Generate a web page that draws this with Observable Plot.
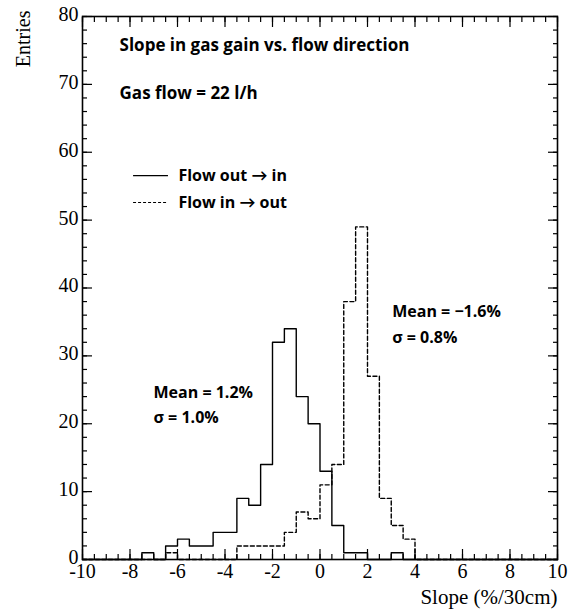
<!DOCTYPE html>
<html>
<head>
<meta charset="utf-8">
<script src="https://cdn.jsdelivr.net/npm/d3@7"></script>
<script src="https://cdn.jsdelivr.net/npm/@observablehq/plot@0.6"></script>
<style>
  body { margin: 0; background: #fff; }
  #chart svg { display: block; }
</style>
</head>
<body>
<div id="chart"></div>
<script>
// Histogram bins: lower edges (width 0.5 %/30cm)
const binLow = [-7.5, -7, -6.5, -6, -5.5, -5, -4.5, -4, -3.5, -3, -2.5, -2,
                -1.5, -1, -0.5, 0, 0.5, 1, 1.5, 2, 2.5, 3, 3.5];
const binWidth = 0.5;

// Entries per bin for each flow direction
const flowOutIn = [1, 0, 2, 3, 2, 2, 4, 4, 9, 8, 14, 32, 34, 24, 20, 13, 5, 1, 1, 0, 0, 1, 0];
const flowInOut = [0, 0, 1, 0, 0, 0, 0, 0, 2, 2, 2, 2, 4, 7, 6, 11, 14, 38, 49, 27, 9, 5, 3];

// Axes
const xDomain = [-10, 10];
const yDomain = [0, 80];
const xMajorTicks = [-10, -8, -6, -4, -2, 0, 2, 4, 6, 8, 10];
const yMajorTicks = [0, 10, 20, 30, 40, 50, 60, 70, 80];
const xMinorTicks = d3.range(-10, 10.001, 0.5);
const yMinorTicks = d3.range(0, 80.001, 2);

// Text
const titleText = "Slope in gas gain vs. flow direction";
const flowText = "Gas flow = 22 l/h";
const legendLabels = ["Flow out \u2192 in", "Flow in \u2192 out"];
const statsOutIn = ["Mean = 1.2%", "\u03c3 = 1.0%"];
const statsInOut = ["Mean = \u22121.6%", "\u03c3 = 0.8%"];

// Step outline of a histogram, running along the axis outside the filled bins
function outline(values) {
  const pts = [{x: xDomain[0], y: 0}];
  binLow.forEach((x0, i) => pts.push({x: x0, y: values[i]}));
  pts.push({x: binLow[binLow.length - 1] + binWidth, y: 0});
  pts.push({x: xDomain[1], y: 0});
  return pts;
}

const sans = "'Open Sans', Lato, sans-serif";
const annot = {fontFamily: sans, fontWeight: "bold", fontSize: 17, textAnchor: "start", fill: "#000"};
const small = {...annot, fontSize: 16};
const fmt = d => String(d);

const chart = Plot.plot({
  width: 569,
  height: 612,
  marginLeft: 82,
  marginRight: 12,
  marginTop: 16,
  marginBottom: 53,
  style: {fontFamily: "'Liberation Serif', 'Times New Roman', serif", fontSize: "20px", color: "#000", background: "#fff"},
  x: {domain: xDomain, label: null},
  y: {domain: yDomain, label: null},
  marks: [
    // histograms
    Plot.line(outline(flowOutIn), {x: "x", y: "y", curve: "step-after", stroke: "#000", strokeWidth: 1.4}),
    Plot.line(outline(flowInOut), {x: "x", y: "y", curve: "step-after", stroke: "#000", strokeWidth: 1.4, strokeDasharray: "4,2.5"}),

    // inward ticks on all four sides
    Plot.axisX({anchor: "bottom", ticks: xMinorTicks, tickSize: -5, text: null, label: null, strokeWidth: 1.2}),
    Plot.axisX({anchor: "bottom", ticks: xMajorTicks, tickSize: -10, text: null, label: null, strokeWidth: 1.2}),
    Plot.axisX({anchor: "top", ticks: xMinorTicks, tickSize: -5, text: null, label: null, strokeWidth: 1.2}),
    Plot.axisX({anchor: "top", ticks: xMajorTicks, tickSize: -10, text: null, label: null, strokeWidth: 1.2}),
    Plot.axisY({anchor: "left", ticks: yMinorTicks, tickSize: -5, text: null, label: null, strokeWidth: 1.2}),
    Plot.axisY({anchor: "left", ticks: yMajorTicks, tickSize: -10, text: null, label: null, strokeWidth: 1.2}),
    Plot.axisY({anchor: "right", ticks: yMinorTicks, tickSize: -5, text: null, label: null, strokeWidth: 1.2}),
    Plot.axisY({anchor: "right", ticks: yMajorTicks, tickSize: -10, text: null, label: null, strokeWidth: 1.2}),

    // tick labels
    Plot.axisX({anchor: "bottom", ticks: xMajorTicks, tickSize: 0, tickPadding: 4, tickFormat: fmt, label: null}),
    Plot.axisY({anchor: "left", ticks: yMajorTicks, tickSize: 0, tickPadding: 4, dy: -2, tickFormat: fmt, label: null}),

    Plot.frame({stroke: "#000", strokeWidth: 1.6}),

    // axis titles
    Plot.text(["Entries"], {frameAnchor: "top-left", rotate: -90, textAnchor: "end", dx: -67, dy: -6, fontSize: 20}),
    Plot.text(["Slope (%/30cm)"], {frameAnchor: "bottom-right", textAnchor: "end", dy: 44, fontSize: 21}),

    // annotations
    Plot.text([titleText], {x: -8.44, y: 75.7, ...annot}),
    Plot.text([flowText], {x: -8.44, y: 68.6, ...annot}),
    Plot.ruleY([56.55], {x1: -7.85, x2: -6.38, stroke: "#000", strokeWidth: 1.2}),
    Plot.ruleY([52.6], {x1: -7.85, x2: -6.38, stroke: "#000", strokeWidth: 1.2, strokeDasharray: "3,2"}),
    Plot.text([legendLabels[0]], {x: -5.96, y: 56.55, ...small}),
    Plot.text([legendLabels[1]], {x: -5.96, y: 52.6, ...small}),
    Plot.text([statsInOut[0]], {x: 3.04, y: 36.5, ...small}),
    Plot.text([statsInOut[1]], {x: 3.04, y: 32.7, ...small}),
    Plot.text([statsOutIn[0]], {x: -7.01, y: 24.6, ...small}),
    Plot.text([statsOutIn[1]], {x: -7.01, y: 20.8, ...small})
  ]
});

document.getElementById("chart").appendChild(chart);
</script>
</body>
</html>
